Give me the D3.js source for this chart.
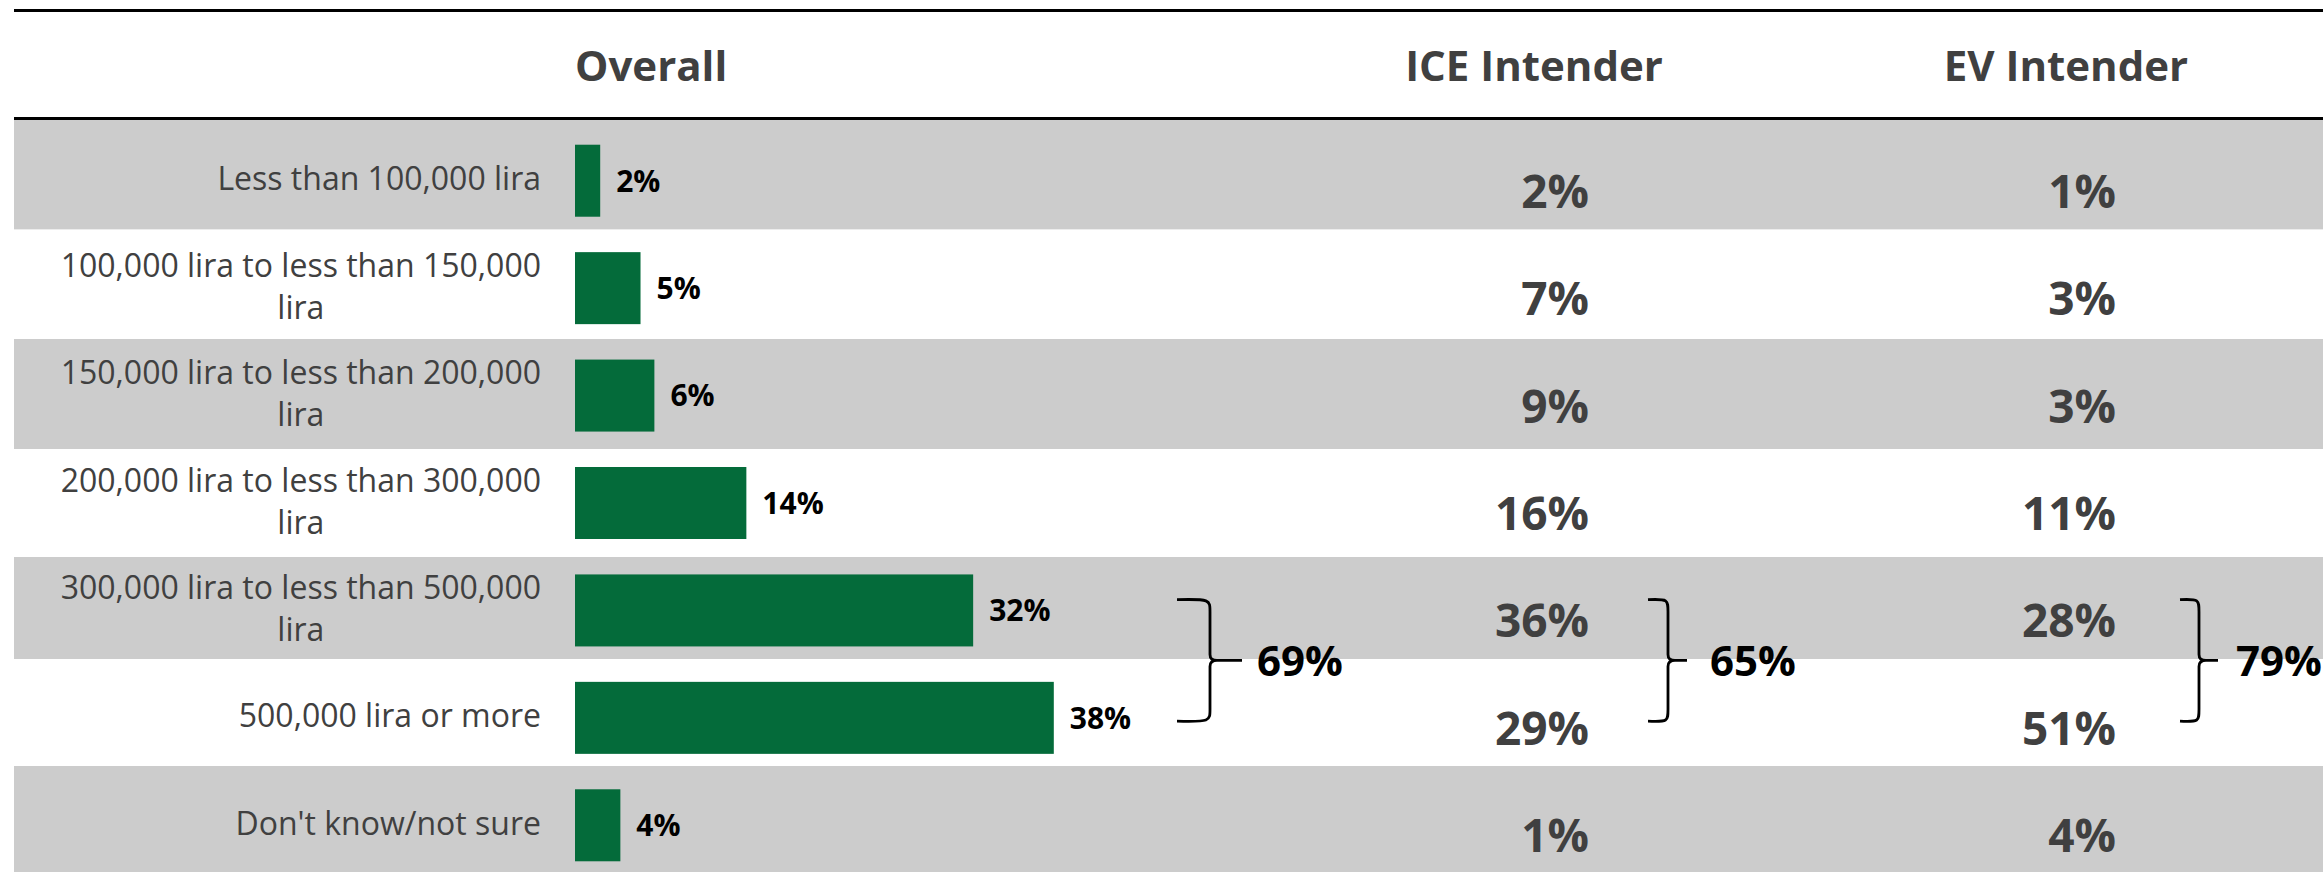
<!DOCTYPE html>
<html lang="en">
<head>
    <meta charset="UTF-8">
    <script src="https://d3js.org/d3.v7.min.js"></script>
    <style>
        body { margin: 0; background: #fff; }
        text { font-family: "Open Sans", sans-serif; }
    </style>
</head>
<body>
    <svg id="chart" width="2323" height="872"></svg>

    <script>
        // data
        const categories = [
            "Less than 100,000 lira",
            "100,000 lira to less than 150,000 lira",
            "150,000 lira to less than 200,000 lira",
            "200,000 lira to less than 300,000 lira",
            "300,000 lira to less than 500,000 lira",
            "500,000 lira or more",
            "Don't know/not sure"
        ];
        const columns = ["Overall", "ICE Intender", "EV Intender"];
        // bar lengths as measured; labels show them rounded
        const overall = [2.0, 5.2, 6.3, 13.6, 31.6, 38.0, 3.6];
        const iceIntender = [2, 7, 9, 16, 36, 29, 1];
        const evIntender = [1, 3, 3, 11, 28, 51, 4];
        // combined share of the two top brackets, per column
        const topTotals = [69, 65, 79];

        const width = 2323, height = 872;
        const left = 14, headerTop = 10.5, headerBottom = 118.5;
        const grey = "#cccccc", green = "#046b3a", textGrey = "#404040";
        // table row heights (the stripes are not quite even in the original)
        const rowHeights = [109.6, 109.4, 110, 108, 102, 107, 106];

        const svg = d3.select("#chart");

        const y = d3.scaleBand()
            .domain(categories)
            .range([120, height]);

        const x = d3.scaleLinear()
            .domain([0, 100])
            .range([575, 575 + 1260]);

        // striped rows
        const rowTops = d3.cumsum([120].concat(rowHeights));
        svg.selectAll(".row")
            .data(categories)
            .enter().append("rect")
            .attr("class", "row")
            .attr("x", left)
            .attr("y", (d, i) => rowTops[i])
            .attr("width", width - left)
            .attr("height", (d, i) => rowHeights[i])
            .attr("fill", (d, i) => i % 2 === 0 ? grey : "#fff");

        // header rules
        svg.append("line")
            .attr("x1", left).attr("x2", width)
            .attr("y1", headerTop).attr("y2", headerTop)
            .attr("stroke", "#000").attr("stroke-width", 3);
        svg.append("line")
            .attr("x1", left).attr("x2", width)
            .attr("y1", headerBottom).attr("y2", headerBottom)
            .attr("stroke", "#000").attr("stroke-width", 3);

        // column headers
        const headerX = [x(0), 1534, 2066];
        svg.selectAll(".header")
            .data(columns)
            .enter().append("text")
            .attr("class", "header")
            .attr("x", (d, i) => headerX[i])
            .attr("y", 81)
            .attr("text-anchor", (d, i) => i === 0 ? "start" : "middle")
            .attr("font-size", 42)
            .attr("font-weight", 700)
            .attr("fill", textGrey)
            .text(d => d);

        const barH = 72;
        const barCenter = d => y(d) + y.bandwidth() / 2 + 7;

        // bars
        svg.selectAll(".bar")
            .data(categories)
            .enter().append("rect")
            .attr("class", "bar")
            .attr("x", x(0))
            .attr("y", d => barCenter(d) - barH / 2)
            .attr("width", (d, i) => x(overall[i]) - x(0))
            .attr("height", barH)
            .attr("fill", green);

        svg.selectAll(".bar-label")
            .data(categories)
            .enter().append("text")
            .attr("class", "bar-label")
            .attr("x", (d, i) => x(overall[i]) + 16)
            .attr("y", d => barCenter(d))
            .attr("dy", "0.36em")
            .attr("font-size", 30)
            .attr("font-weight", 700)
            .attr("fill", "#000")
            .text((d, i) => Math.round(overall[i]) + "%");

        // category labels, wrapped, lines centred within a right-aligned block
        const labelRight = 541, maxLabelW = 510, lineH = 42, labelSize = 32;
        categories.forEach(cat => {
            const g = svg.append("g");
            const probe = g.append("text").attr("font-size", labelSize);
            const words = cat.split(" ");
            const lines = [];
            let line = [];
            words.forEach(w => {
                line.push(w);
                probe.text(line.join(" "));
                if (probe.node().getComputedTextLength() > maxLabelW && line.length > 1) {
                    line.pop();
                    lines.push(line.join(" "));
                    line = [w];
                }
            });
            lines.push(line.join(" "));
            const widths = lines.map(l => {
                probe.text(l);
                return probe.node().getComputedTextLength();
            });
            probe.remove();
            const blockW = d3.max(widths);
            const cx = labelRight - blockW / 2;
            const c = barCenter(cat) - 2;
            lines.forEach((l, k) => {
                g.append("text")
                    .attr("x", cx)
                    .attr("y", c + (k - (lines.length - 1) / 2) * lineH)
                    .attr("dy", "0.36em")
                    .attr("text-anchor", "middle")
                    .attr("font-size", labelSize)
                    .attr("fill", textGrey)
                    .text(l);
            });
        });

        // ICE / EV values
        const valueCols = [
            { values: iceIntender, right: 1589 },
            { values: evIntender, right: 2116 }
        ];
        valueCols.forEach(col => {
            svg.selectAll(null)
                .data(categories)
                .enter().append("text")
                .attr("x", col.right)
                .attr("y", d => y(d) + y.bandwidth() / 2 + 34)
                .attr("text-anchor", "end")
                .attr("font-size", 46)
                .attr("font-weight", 700)
                .attr("fill", textGrey)
                .text((d, i) => col.values[i] + "%");
        });

        // braces over the two top brackets
        const braceX = [
            { x0: 1177, x1: 1210, x2: 1242, tx: 1257 },
            { x0: 1648, x1: 1668, x2: 1687, tx: 1710 },
            { x0: 2180, x1: 2199, x2: 2218, tx: 2236 }
        ];
        const braceTop = y(categories[4]) + 50;
        const braceBottom = y(categories[5]) + 64;
        const braceMid = (braceTop + braceBottom) / 2;

        braceX.forEach((b, i) => {
            const p = d3.path();
            p.moveTo(b.x0, braceTop);
            p.bezierCurveTo(b.x1, braceTop - 1, b.x1, braceTop, b.x1, braceTop + 12);
            p.lineTo(b.x1, braceMid - 6);
            p.quadraticCurveTo(b.x1, braceMid, b.x1 + 7, braceMid);
            p.lineTo(b.x2, braceMid);
            p.moveTo(b.x1 + 7, braceMid);
            p.quadraticCurveTo(b.x1, braceMid, b.x1, braceMid + 6);
            p.lineTo(b.x1, braceBottom - 12);
            p.bezierCurveTo(b.x1, braceBottom, b.x1, braceBottom + 1, b.x0, braceBottom);

            svg.append("path")
                .attr("d", p.toString())
                .attr("fill", "none")
                .attr("stroke", "#000")
                .attr("stroke-width", 2.8);

            svg.append("text")
                .attr("x", b.tx)
                .attr("y", braceMid)
                .attr("dy", "0.36em")
                .attr("font-size", 42)
                .attr("font-weight", 700)
                .attr("fill", "#000")
                .text(topTotals[i] + "%");
        });
    </script>
</body>
</html>
